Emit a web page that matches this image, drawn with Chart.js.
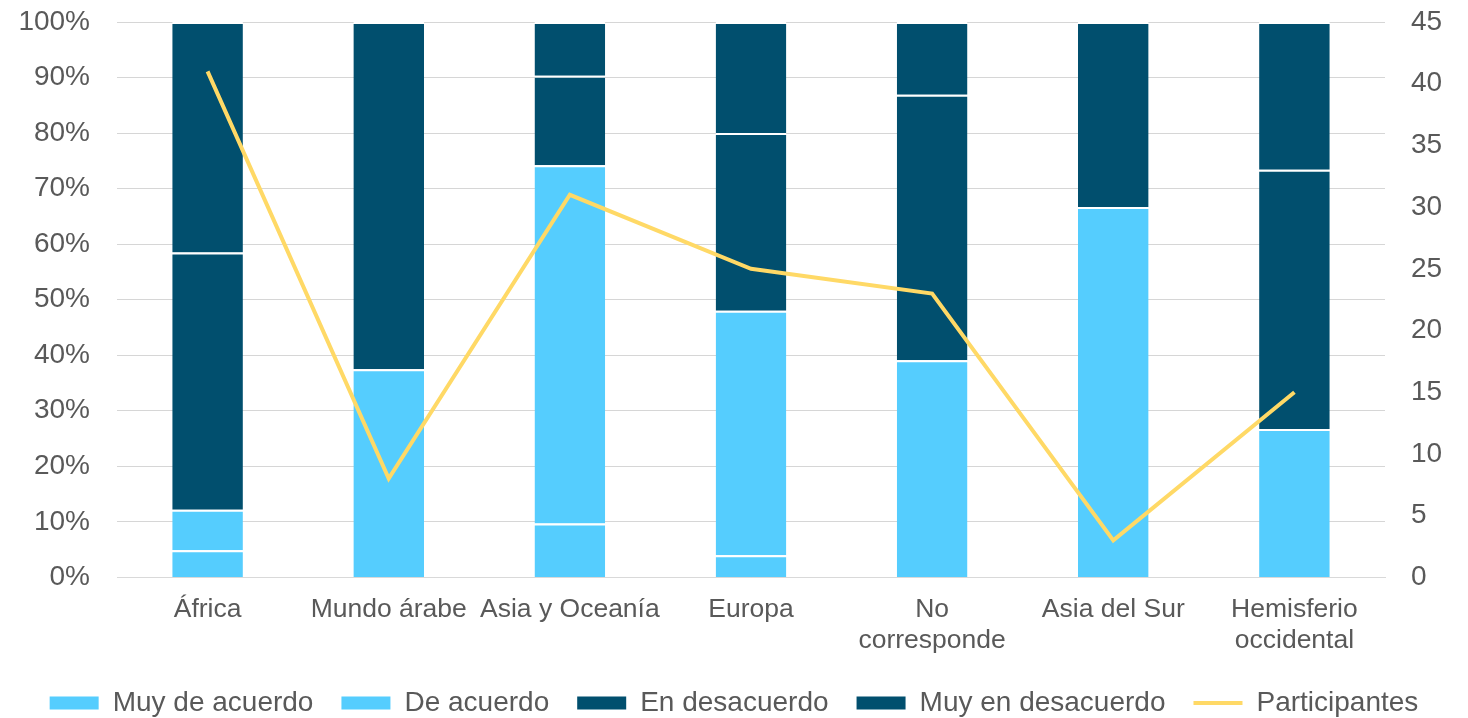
<!DOCTYPE html>
<html>
<head>
<meta charset="utf-8">
<script src="https://cdn.jsdelivr.net/npm/chart.js@4"></script>
<style>
  html, body { margin: 0; padding: 0; background: #ffffff; }
  #wrap { width: 1468px; height: 718px; position: relative; }
</style>
</head>
<body>
<div id="wrap"><canvas id="c"></canvas></div>
<script>
const categories = ['África', 'Mundo árabe', 'Asia y Oceanía', 'Europa', ['No', 'corresponde'], 'Asia del Sur', ['Hemisferio', 'occidental']];
const muyDeAcuerdo    = [4.9, 0, 9.7, 4.0, 0, 0, 0];
const deAcuerdo       = [7.3, 37.5, 64.5, 44.0, 39.1, 66.7, 26.7];
const enDesacuerdo    = [46.3, 62.5, 16.1, 32.0, 47.8, 33.3, 46.7];
const muyEnDesacuerdo = [41.5, 0, 9.7, 20.0, 13.1, 0, 26.6];
const participantes   = [41, 8, 31, 25, 23, 3, 15];
const leftTicks = [0, 10, 20, 30, 40, 50, 60, 70, 80, 90, 100];
const rightTicks = [0, 5, 10, 15, 20, 25, 30, 35, 40, 45];

const LIGHT = '#55CDFE';
const DARK = '#014F6E';
const YELLOW = '#FFD966';
const TXT = '#595959';
const FONT = "'Liberation Sans', Arial, sans-serif";

const barCommon = {
  type: 'bar',
  stack: 's',
  yAxisID: 'y',
  borderColor: '#ffffff',
  borderWidth: { top: 2, left: 0, right: 0, bottom: 0 },
  borderSkipped: false,
  barPercentage: 0.39,
  categoryPercentage: 1.0,
  order: 1
};

new Chart(document.getElementById('c'), {
  data: {
    labels: categories,
    datasets: [
      Object.assign({}, barCommon, { label: 'Muy de acuerdo', data: muyDeAcuerdo, backgroundColor: LIGHT }),
      Object.assign({}, barCommon, { label: 'De acuerdo', data: deAcuerdo, backgroundColor: LIGHT }),
      Object.assign({}, barCommon, { label: 'En desacuerdo', data: enDesacuerdo, backgroundColor: DARK }),
      Object.assign({}, barCommon, { label: 'Muy en desacuerdo', data: muyEnDesacuerdo, backgroundColor: DARK }),
      {
        type: 'line',
        label: 'Participantes',
        data: participantes,
        yAxisID: 'y1',
        borderColor: YELLOW,
        backgroundColor: YELLOW,
        borderWidth: 4,
        pointRadius: 0,
        tension: 0,
        order: 0
      }
    ]
  },
  options: {
    responsive: true,
    maintainAspectRatio: false,
    animation: false,
    layout: { padding: { top: 22, right: 0, bottom: -9, left: 0 } },
    plugins: {
      tooltip: { enabled: false },
      legend: {
        position: 'bottom',
        labels: {
          color: TXT,
          font: { family: FONT, size: 28 },
          usePointStyle: true,
          pointStyleWidth: 49,
          boxHeight: 13,
          padding: 28,
          generateLabels: function(chart) {
            return chart.data.datasets.map(function(ds, i) {
              const isLine = ds.type === 'line';
              return {
                text: ds.label,
                datasetIndex: i,
                fillStyle: isLine ? 'rgba(0,0,0,0)' : ds.backgroundColor,
                strokeStyle: isLine ? ds.borderColor : ds.backgroundColor,
                lineWidth: isLine ? 4 : 0,
                pointStyle: isLine ? 'line' : 'rect',
                fontColor: TXT,
                hidden: false
              };
            });
          }
        }
      }
    },
    scales: {
      x: {
        grid: { display: false, drawTicks: false },
        border: { display: true, color: '#d9d9d9', width: 1 },
        afterFit: function(scale) { scale.height = scale.height - 12; },
        ticks: {
          color: TXT,
          font: { family: FONT, size: 26.5, lineHeight: 1.2 },
          padding: 16,
          maxRotation: 0,
          autoSkip: false
        }
      },
      y: {
        position: 'left',
        stacked: true,
        min: 0,
        max: 100,
        afterBuildTicks: function(axis) { axis.ticks = leftTicks.map(v => ({ value: v })); },
        afterFit: function(scale) { scale.width = 117; scale.paddingTop = 0; scale.paddingBottom = 0; },
        grid: { color: '#d6d6d6', lineWidth: 1, drawTicks: false },
        border: { display: false },
        ticks: {
          color: TXT,
          font: { family: FONT, size: 28 },
          padding: 27,
          callback: v => v + '%'
        }
      },
      y1: {
        position: 'right',
        min: 0,
        max: 45,
        afterBuildTicks: function(axis) { axis.ticks = rightTicks.map(v => ({ value: v })); },
        afterFit: function(scale) { scale.width = 83; scale.paddingTop = 0; scale.paddingBottom = 0; },
        grid: { drawOnChartArea: false, drawTicks: false },
        border: { display: false },
        ticks: {
          color: TXT,
          font: { family: FONT, size: 28 },
          padding: 26
        }
      }
    }
  }
});
</script>
</body>
</html>
